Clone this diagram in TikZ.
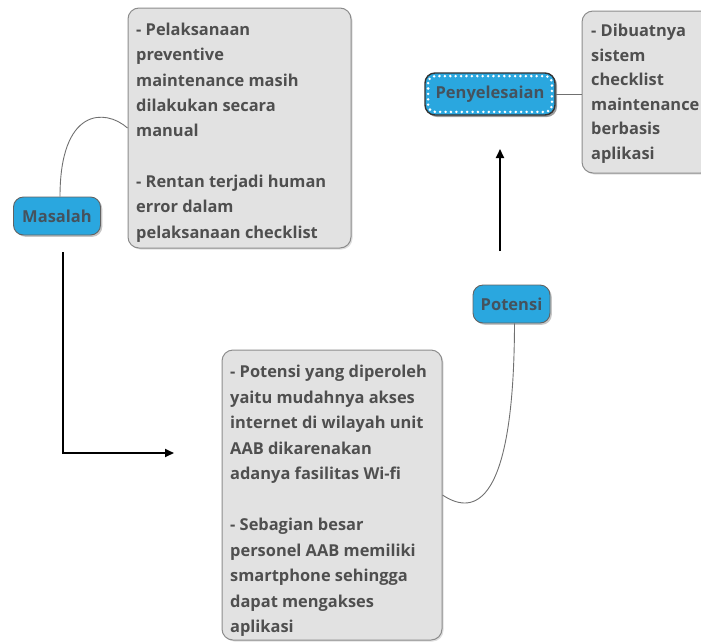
\documentclass[tikz,border=0pt]{standalone}
\usepackage{fontspec}
\setmainfont{Open Sans}[BoldFont={* Bold}]
\usetikzlibrary{arrows.meta,shadows}
\definecolor{nodeblue}{HTML}{2AA7DF}
\definecolor{bluetext}{HTML}{45525D}
\definecolor{boxfill}{HTML}{E2E2E2}
\definecolor{boxline}{HTML}{8C8C8C}
\definecolor{boxtext}{HTML}{4F4F4F}
\begin{document}
\begin{tikzpicture}[x=1pt,y=-1pt,
  topic/.style={draw=boxline!70!black,line width=0.9pt,fill=nodeblue,rounded corners=10pt,
     text=bluetext,font=\fontsize{16.5}{18}\selectfont\bfseries,inner sep=0pt,
     drop shadow={shadow xshift=1.8pt,shadow yshift=-1.8pt,opacity=0.45}},
  notebox/.style={draw=boxline,line width=1pt,fill=boxfill,rounded corners=11pt,
     drop shadow={shadow xshift=1.5pt,shadow yshift=-1.5pt,opacity=0.25}},
  notetext/.style={anchor=north west,align=left,inner sep=0pt,text=boxtext,
     font=\fontsize{16.4}{25.3}\selectfont\bfseries},
  link/.style={draw=boxline!80!black,line width=0.9pt},
  arr/.style={draw=black,line width=1.8pt,-{Triangle[length=9pt,width=8pt]}}]
\useasboundingbox (0,0) rectangle (701,643);
% boxes
\node[notebox,minimum width=223pt,minimum height=240pt] (topbox) at (239.5,128) {};
\node[notetext] (toptext) at (136,23) {- Pelaksanaan\\preventive\\maintenance masih\\dilakukan secara\\manual\\[25.3pt]- Rentan terjadi human\\error dalam\\pelaksanaan checklist};
\node[notebox,minimum width=130pt,minimum height=162pt] (rbox) at (647,92) {};
\node[notetext,font=\fontsize{16.4}{24.5}\selectfont\bfseries] (rtext) at (591,24) {- Dibuatnya\\sistem\\checklist\\maintenance\\berbasis\\aplikasi};
\node[notebox,minimum width=220pt,minimum height=290pt] (botbox) at (332,495) {};
\node[notetext,font=\fontsize{16.4}{25.5}\selectfont\bfseries] (bottext) at (230,365) {- Potensi yang diperoleh\\yaitu mudahnya akses\\internet di wilayah unit\\AAB dikarenakan\\adanya fasilitas Wi-fi\\[25.5pt]- Sebagian besar\\personel AAB memiliki\\smartphone sehingga\\dapat mengakses\\aplikasi};
% topics
\node[topic,minimum width=87pt,minimum height=38pt] (mas) at (57,216) {Masalah};
\node[topic,minimum width=77pt,minimum height=38pt] (pot) at (511.5,304) {Potensi};
\node[topic,draw=black!80,line width=1.4pt,minimum width=130pt,minimum height=42pt,
  drop shadow={shadow xshift=2pt,shadow yshift=-2pt,opacity=0.6}] (pen) at (490,94) {Penyelesaian};
\draw[white,line width=2.8pt,line cap=round,dash pattern=on 0pt off 5.4pt,rounded corners=7pt]
  ([shift={(3.8pt,-3.8pt)}]pen.north west) rectangle ([shift={(-3.8pt,3.8pt)}]pen.south east);
% links
\draw[link] ([xshift=3pt]mas.north) .. controls (60,108) and (105,108) .. (topbox.west);
\draw[link] ([xshift=3pt]pot.south) .. controls (514,520) and (468,512) .. (botbox.east);
\draw[link] (pen.east) -- (pen.east -| rbox.west);
% arrows
\coordinate (a1) at (63,252);
\coordinate (a2) at (174,453);
\draw[arr] (a1) |- (a2);
\coordinate (b1) at (500,251);
\coordinate (b2) at (500,149);
\draw[arr] (b1) -- (b2);
\end{tikzpicture}
\end{document}
